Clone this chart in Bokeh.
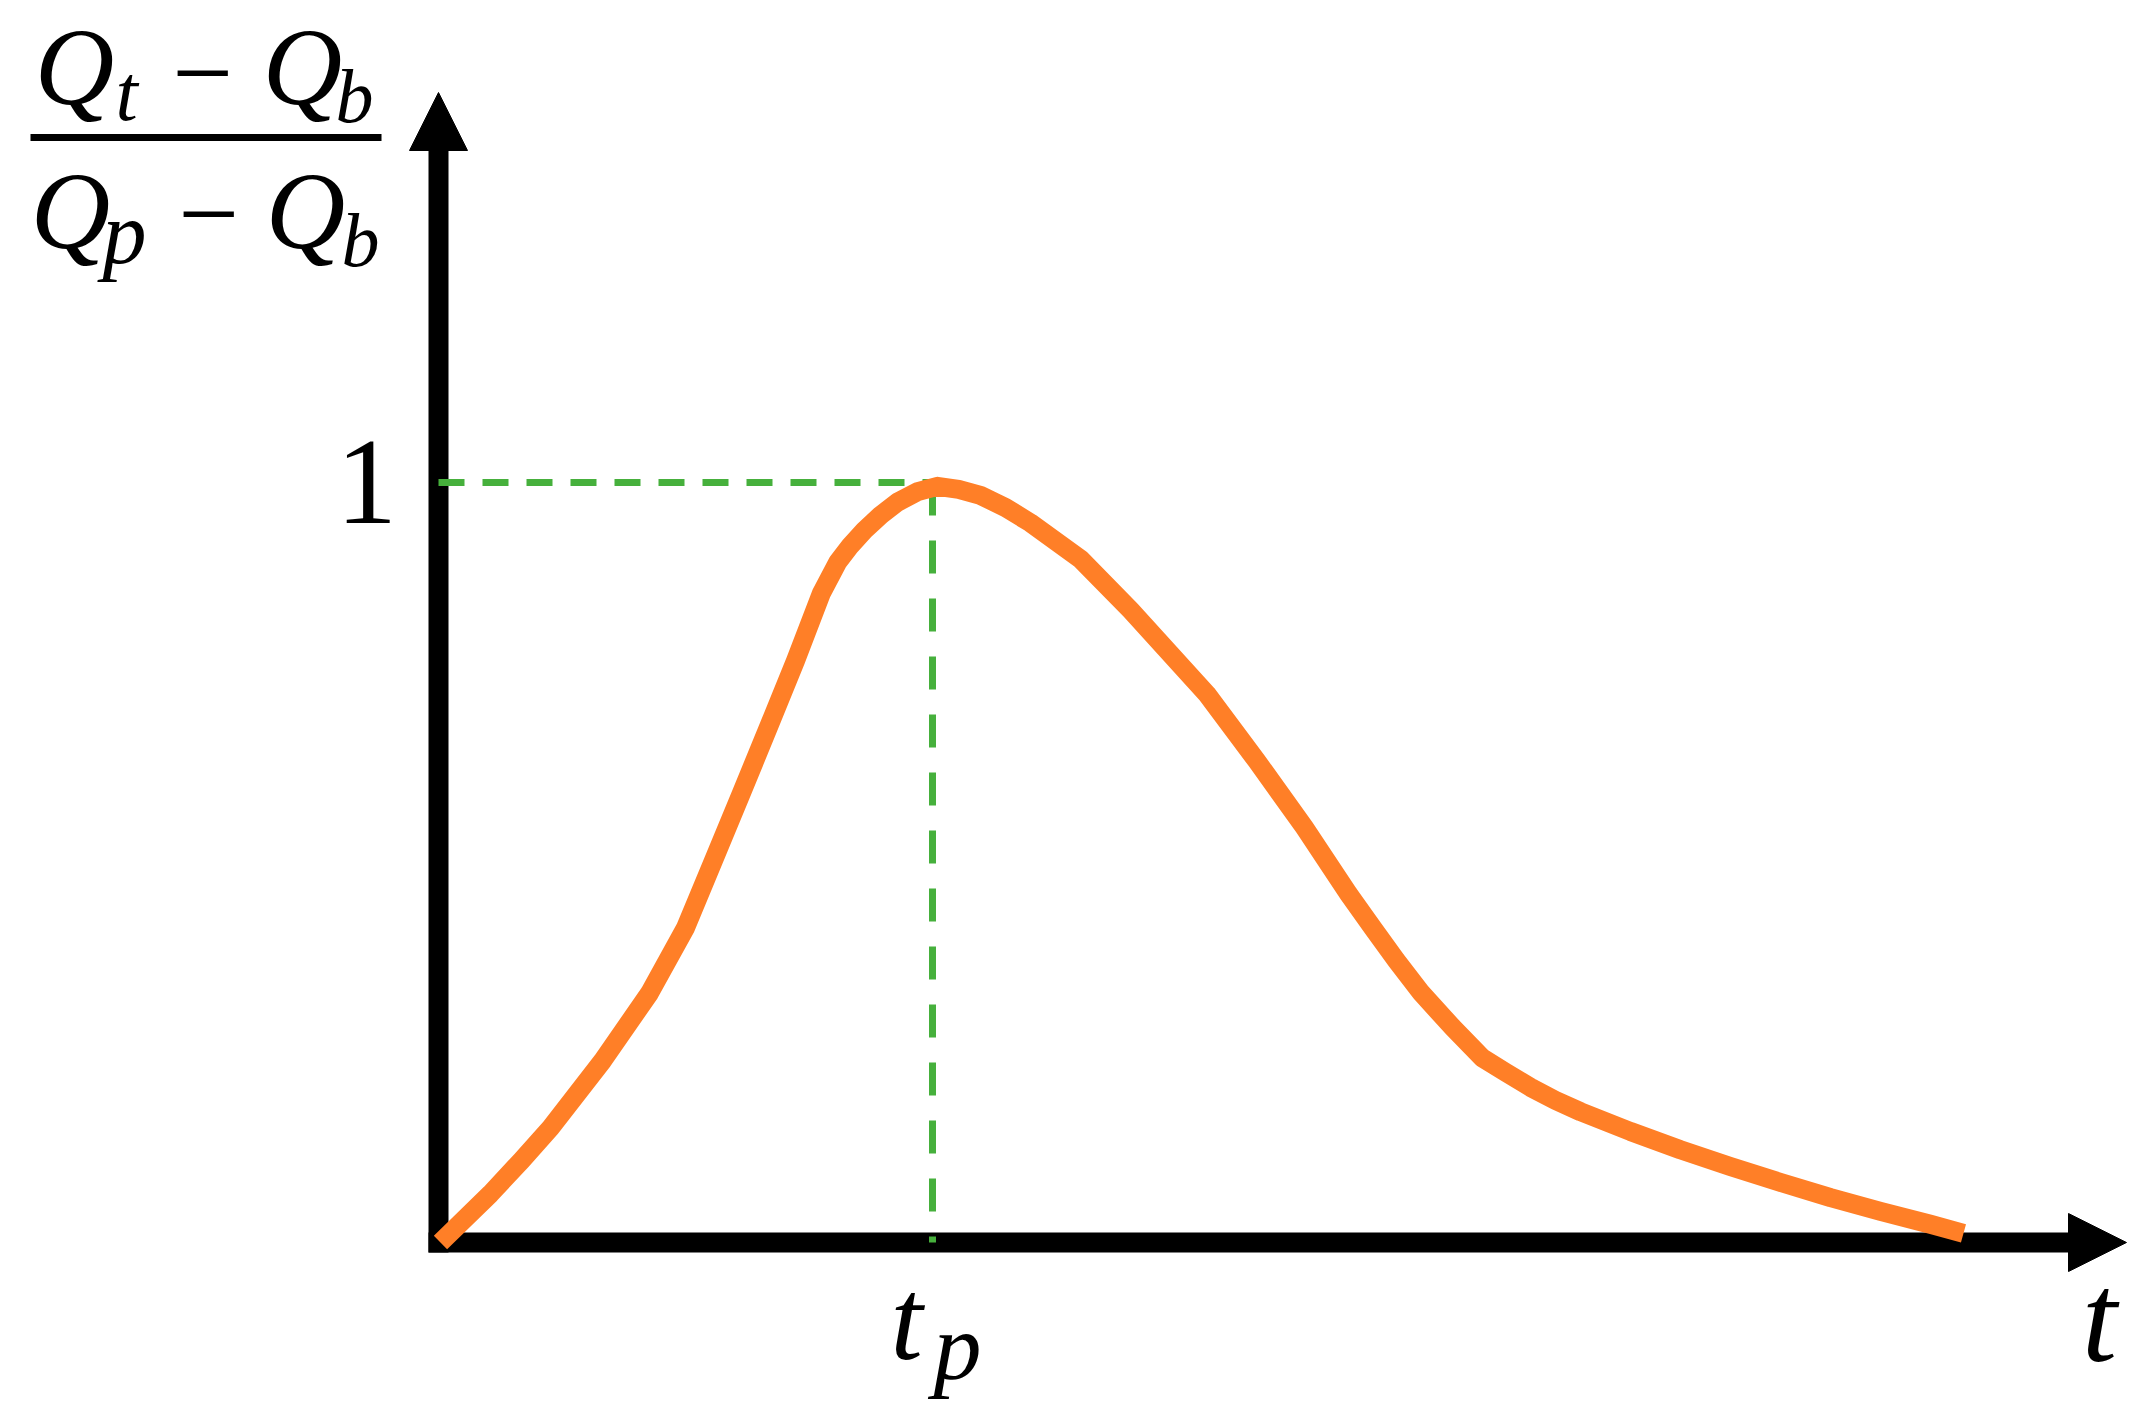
from bokeh.plotting import figure
from bokeh.models import Range1d, Arrow, NormalHead, Label
from bokeh.embed import file_html
from bokeh.resources import INLINE

# ---------------- data (t / t_p, normalised discharge) ----------------
t_values = [0.004, 0.105, 0.168, 0.227, 0.332, 0.427, 0.500, 0.557, 0.613, 0.668,
            0.723, 0.775, 0.808, 0.834, 0.862, 0.895, 0.929, 0.970, 1.010, 1.053,
            1.097, 1.148, 1.198, 1.300, 1.401, 1.555, 1.656, 1.753, 1.842, 1.891,
            1.939, 1.990, 2.053, 2.113, 2.160, 2.211, 2.261, 2.312, 2.413, 2.514,
            2.615, 2.717, 2.818, 2.919, 3.020, 3.087]
q_values = [0.000, 0.064, 0.108, 0.151, 0.239, 0.328, 0.414, 0.503, 0.591, 0.678,
            0.766, 0.854, 0.895, 0.917, 0.937, 0.957, 0.974, 0.988, 0.995, 0.991,
            0.983, 0.967, 0.947, 0.899, 0.832, 0.722, 0.634, 0.546, 0.459, 0.414,
            0.371, 0.328, 0.283, 0.243, 0.224, 0.204, 0.187, 0.172, 0.146, 0.122,
            0.100, 0.079, 0.059, 0.041, 0.024, 0.012]
t_peak = [1.0]
q_peak = [1.0]
y_tick_label = "1"
x_tick_label = ("t", "p")
x_axis_label = "t"

# ---------------- layout (reference pixels) ----------------
W, H = 2140, 1418
OX, OY = 438, 1242      # screen position of the origin
SX, SY = 494, 760       # pixels per unit

def dx(sx):
    return (sx - OX) / SX

def dy(sy):
    return (OY - sy) / SY

p = figure(width=W, height=H,
           x_range=Range1d(dx(0), dx(W)),
           y_range=Range1d(dy(H), dy(0)),
           output_backend="svg", toolbar_location=None,
           min_border=0, x_axis_type=None, y_axis_type=None)
p.grid.visible = False
p.outline_line_color = None
p.background_fill_color = "white"
p.border_fill_color = "white"

BLACK = "black"
ORANGE = "#ff7f27"
GREEN = "#46b03c"

# axes shafts
p.segment(x0=[dx(428)], y0=[0], x1=[dx(2069)], y1=[0], line_width=20, color=BLACK)
p.segment(x0=[0], y0=[dy(1252)], x1=[0], y1=[dy(148)], line_width=20, color=BLACK)
# arrow heads
p.add_layout(Arrow(x_start=dx(2068), y_start=0, x_end=dx(2126), y_end=0,
                   line_alpha=0,
                   end=NormalHead(size=58, fill_color=BLACK, line_color=BLACK, line_width=1)))
p.add_layout(Arrow(x_start=0, y_start=dy(149), x_end=0, y_end=dy(92),
                   line_alpha=0,
                   end=NormalHead(size=58, fill_color=BLACK, line_color=BLACK, line_width=1)))

# dashed guides to the peak
p.line([0, t_peak[0]], [q_peak[0], q_peak[0]], line_width=7, color=GREEN, line_dash="26 18")
p.line([t_peak[0], t_peak[0]], [q_peak[0], 0], line_width=7, color=GREEN, line_dash="33 25")

# hydrograph
p.line(t_values, q_values, line_width=19, color=ORANGE, line_join="round")

FONT = "Liberation Serif"
BASE_FIX = 0.31   # em correction for Bokeh's alphabetic baseline placement

def lab(text, sx, sy, size, italic=True):
    p.add_layout(Label(x=dx(sx), y=dy(sy - BASE_FIX * size), text=text, text_font=FONT,
                       text_font_size=f"{size}px",
                       text_font_style="italic" if italic else "normal",
                       text_align="center", text_baseline="alphabetic",
                       text_color=BLACK))

# y tick label "1"
lab(y_tick_label, 366, 520, 122, italic=False)
# t_p label
lab(x_tick_label[0], 906, 1355, 116)
lab(x_tick_label[1], 957, 1376, 96)
# axis label t
lab(x_axis_label, 2099, 1357, 126)

# fraction (Qt - Qb) / (Qp - Qb)
lab("Q", 74, 101, 110)
lab("t", 126, 117, 80)
lab("\u2212", 202, 106, 108, italic=False)
lab("Q", 302, 101, 110)
lab("b", 354, 119, 76)
p.segment(x0=[dx(30)], y0=[dy(137)], x1=[dx(381)], y1=[dy(137)], line_width=7, color=BLACK)
lab("Q", 70, 245, 110)
lab("p", 124, 260, 88)
lab("\u2212", 208, 247, 108, italic=False)
lab("Q", 305, 245, 110)
lab("b", 360, 263, 76)

open("out.html", "w").write(file_html(p, INLINE))
